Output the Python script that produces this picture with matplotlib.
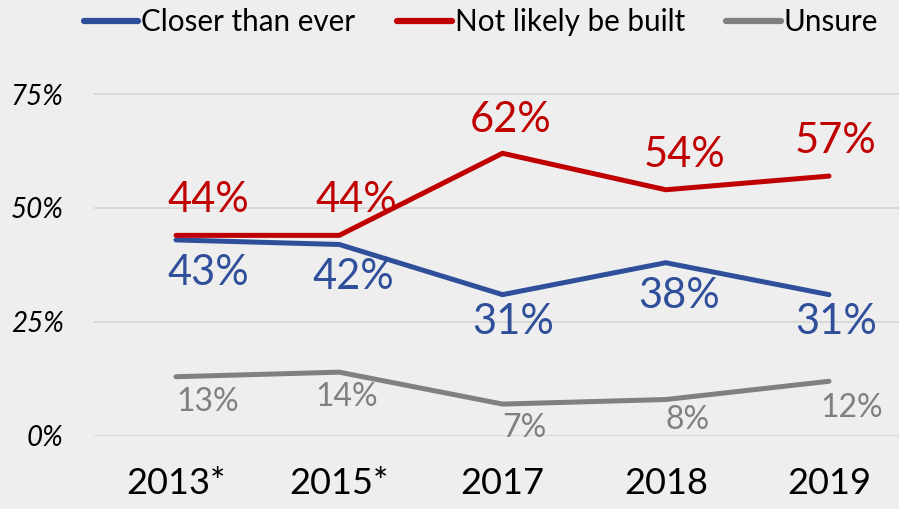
import matplotlib
matplotlib.use("Agg")
import matplotlib.pyplot as plt
from matplotlib.lines import Line2D

years = ["2013*", "2015*", "2017", "2018", "2019"]
closer = [43, 42, 31, 38, 31]
not_likely = [44, 44, 62, 54, 57]
unsure = [13, 14, 7, 8, 12]
series_names = ["Closer than ever", "Not likely be built", "Unsure"]
yticks = [0, 25, 50, 75]

BG = "#EEEEEE"
BLUE = "#2F4F9A"
RED = "#C00000"
GRAY = "#808080"
FONT = ["Lato", "DejaVu Sans"]
plt.rcParams["font.family"] = FONT

fig = plt.figure(figsize=(8.99, 5.09), dpi=100, facecolor=BG)
W, H = 899, 509
x0_px, step_px = 176, 163.25
left_px = x0_px - 0.5 * step_px
right_px = x0_px + 4.5 * step_px
y0_px = 436
pp = 4.56  # px per percent
ymax = 80
ax = fig.add_axes([left_px / W, (H - y0_px) / H, (right_px - left_px) / W, ymax * pp / H])
ax.set_facecolor(BG)
x = list(range(len(years)))

ax.plot(x, closer, color=BLUE, lw=3.6, solid_capstyle="round", solid_joinstyle="round", zorder=3)
ax.plot(x, not_likely, color=RED, lw=3.6, solid_capstyle="round", solid_joinstyle="round", zorder=4)
ax.plot(x, unsure, color=GRAY, lw=3.6, solid_capstyle="round", solid_joinstyle="round", zorder=3)

ax.set_xlim(-0.5, 4.5)
ax.set_ylim(0, ymax)
ax.set_yticks(yticks)
ax.set_yticklabels([f"{v}%" for v in yticks], fontsize=20, style="italic")
ax.set_xticks(x)
ax.set_xticklabels(years, fontsize=26)
ax.tick_params(axis="y", length=0, pad=22)
ax.tick_params(axis="x", length=0, pad=22)
ax.grid(axis="y", color="#D9D9D9", lw=1.5)
ax.set_axisbelow(True)
for s in ax.spines.values():
    s.set_visible(False)

# label offsets in pixels (dx, dy) – layout only
red_off = [(32, 35), (17, 35), (8, 33), (19, 35), (7, 35)]
blue_off = [(32, -33), (14, -33), (11, -27), (13, -33), (7, -27)]
gray_off = [(32, -25), (7, -25), (22, -24), (22, -20), (23, -27)]

for i in x:
    ax.annotate(f"{not_likely[i]}%", (i, not_likely[i]), xytext=red_off[i], textcoords="offset pixels",
                ha="center", va="center", color=RED, fontsize=30)
    ax.annotate(f"{closer[i]}%", (i, closer[i]), xytext=blue_off[i], textcoords="offset pixels",
                ha="center", va="center", color=BLUE, fontsize=30)
    ax.annotate(f"{unsure[i]}%", (i, unsure[i]), xytext=gray_off[i], textcoords="offset pixels",
                ha="center", va="center", color=GRAY, fontsize=23)

handles = [Line2D([0], [0], color=c, lw=4.5, solid_capstyle="round") for c in (BLUE, RED, GRAY)]
fig.legend(handles, series_names, loc="center", bbox_to_anchor=(481 / W, 1 - 22 / H), ncol=3,
           frameon=False, fontsize=21.3, handlelength=1.85, handletextpad=0.1, columnspacing=1.4,
           borderpad=0, borderaxespad=0)

fig.savefig("out.png", dpi=100, facecolor=BG)
